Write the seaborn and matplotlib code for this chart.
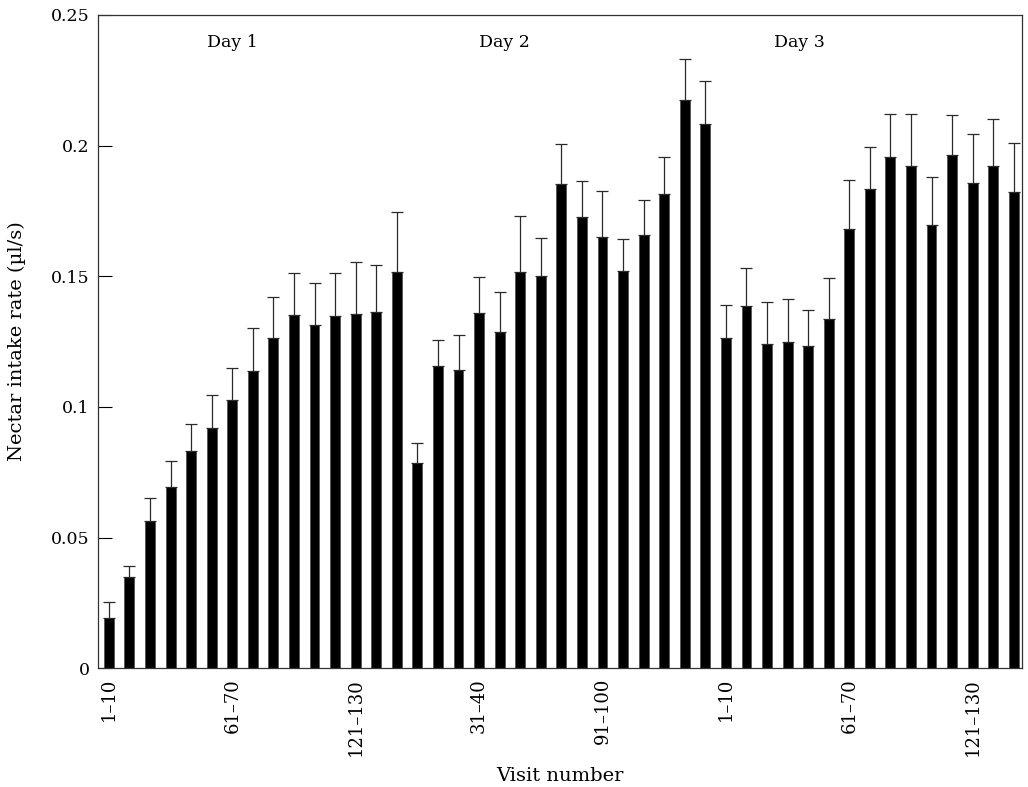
"""
Nectar intake rate per block of ten visits over three days.
"""

import numpy as np
import pandas as pd
import matplotlib.pyplot as plt
import seaborn as sns

sns.set_style("ticks")
plt.rcParams['font.family'] = ['DejaVu Serif']
plt.rcParams['text.color'] = 'black'
plt.rcParams['axes.labelcolor'] = 'black'
plt.rcParams['xtick.color'] = 'black'
plt.rcParams['ytick.color'] = 'black'

# mean intake rate per block of 10 visits (ul/s), 15 blocks per day
day1_rate = [0.0191, 0.0349, 0.0565, 0.0693, 0.0833, 0.0918, 0.1025, 0.1136,
             0.1262, 0.1352, 0.1315, 0.1347, 0.1357, 0.1362, 0.1516]
day2_rate = [0.0785, 0.1158, 0.1143, 0.1359, 0.1286, 0.1517, 0.1502, 0.1853,
             0.1725, 0.1652, 0.1521, 0.1659, 0.1815, 0.2176, 0.2083]
day3_rate = [0.1262, 0.1385, 0.1240, 0.1248, 0.1233, 0.1335, 0.1681, 0.1834,
             0.1955, 0.1921, 0.1696, 0.1965, 0.1855, 0.1923, 0.1822]

# top of the error bar (mean + SE)
day1_upper = [0.0252, 0.0392, 0.0651, 0.0794, 0.0933, 0.1047, 0.1150, 0.1301,
              0.1420, 0.1511, 0.1473, 0.1512, 0.1553, 0.1543, 0.1747]
day2_upper = [0.0863, 0.1257, 0.1276, 0.1497, 0.1441, 0.1732, 0.1645, 0.2006,
              0.1865, 0.1826, 0.1643, 0.1793, 0.1957, 0.2333, 0.2248]
day3_upper = [0.1391, 0.1533, 0.1402, 0.1412, 0.1371, 0.1495, 0.1870, 0.1993,
              0.2122, 0.2120, 0.1880, 0.2119, 0.2044, 0.2101, 0.2010]

days = ['Day 1', 'Day 2', 'Day 3']
blocks = [f"{10 * i + 1}\u2013{10 * i + 10}" for i in range(15)]
y_ticks = [0, 0.05, 0.1, 0.15, 0.2, 0.25]
y_tick_labels = ['0', '0.05', '0.1', '0.15', '0.2', '0.25']

rates = day1_rate + day2_rate + day3_rate
uppers = day1_upper + day2_upper + day3_upper
df = pd.DataFrame({
    'pos': np.arange(len(rates)),
    'day': np.repeat(days, 15),
    'block': blocks * 3,
    'rate': rates,
    'upper': uppers,
})

fig = plt.figure(figsize=(10.28, 7.87), dpi=100)
ax = fig.add_axes([0.0953, 0.151, 0.8987, 0.830])

sns.barplot(data=df, x='pos', y='rate', color='black', width=0.48,
            errorbar=None, saturation=1, edgecolor='#555555', linewidth=0.6,
            ax=ax)

err_up = df['upper'] - df['rate']
ax.errorbar(df['pos'], df['rate'], yerr=[np.zeros(len(df)), err_up],
            fmt='none', ecolor='#2a2a2a', elinewidth=0.9, capsize=4.6,
            capthick=0.9)

# labels every sixth block
tick_pos = df['pos'][::6]
ax.set_xticks(tick_pos)
ax.set_xticklabels(df['block'][::6], rotation=90, fontsize=13)
ax.tick_params(axis='x', length=0, pad=7)

ax.set_yticks(y_ticks)
ax.set_yticklabels(y_tick_labels, fontsize=12.5)
ax.tick_params(axis='y', direction='in', length=10, width=0.8, pad=6)

ax.set_xlim(-0.53, len(df) - 1 + 0.39)
ax.set_ylim(0, 0.25)

for spine in ax.spines.values():
    spine.set_visible(True)
    spine.set_linewidth(0.9)
    spine.set_color('#333333')

# day labels
for x, name in zip([6.0, 19.25, 33.6], days):
    ax.text(x, 0.2393, name, ha='center', va='center', fontsize=12.5)

ax.set_xlabel('Visit number', fontsize=14, labelpad=8)
ax.set_ylabel('Nectar intake rate (\u00b5l/s)', fontsize=14, labelpad=18)

plt.savefig('out.png', dpi=100)
